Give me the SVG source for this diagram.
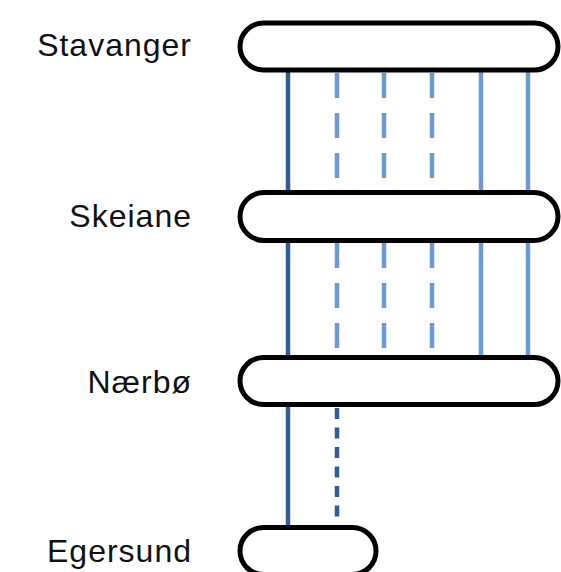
<svg xmlns="http://www.w3.org/2000/svg" width="561" height="572" viewBox="0 0 561 572">
<style>
.lbl{font-family:"Liberation Sans",Arial,sans-serif;font-size:32px;fill:#111;text-anchor:end;letter-spacing:1px}
.pill{fill:#fff;stroke:#000;stroke-width:5}
.dk{stroke:#2F5D95;stroke-width:4.5;fill:none}
.lt{stroke:#6C9BD3;stroke-width:4.5;fill:none}
.d1{stroke-dasharray:25 15}
.d2{stroke-dasharray:11 8.5}
</style>
<rect width="561" height="572" fill="#fff"/>
<g id="connectors">
<line class="dk" x1="288" y1="70" x2="288" y2="193"/>
<line class="lt d1" x1="337" y1="73" x2="337" y2="190"/>
<line class="lt d1" x1="384" y1="73" x2="384" y2="190"/>
<line class="lt d1" x1="432" y1="73" x2="432" y2="190"/>
<line class="lt" x1="481" y1="70" x2="481" y2="193"/>
<line class="lt" x1="528" y1="70" x2="528" y2="193"/>
<line class="dk" x1="288" y1="240" x2="288" y2="358"/>
<line class="lt d1" x1="337" y1="243" x2="337" y2="355"/>
<line class="lt d1" x1="384" y1="243" x2="384" y2="355"/>
<line class="lt d1" x1="432" y1="243" x2="432" y2="355"/>
<line class="lt" x1="481" y1="240" x2="481" y2="358"/>
<line class="lt" x1="528" y1="240" x2="528" y2="358"/>
<line class="dk" x1="288" y1="405" x2="288" y2="528"/>
<line class="dk d2" x1="337" y1="408" x2="337" y2="521"/>
</g>
<g id="stavanger">
<rect class="pill" x="240" y="23" width="318" height="47" rx="23.5"/>
<text class="lbl" x="192" y="56">Stavanger</text>
</g>
<g id="skeiane">
<rect class="pill" x="240" y="192.5" width="318" height="48" rx="24"/>
<text class="lbl" x="192" y="227">Skeiane</text>
</g>
<g id="naerbo">
<rect class="pill" x="240" y="357.5" width="318" height="47" rx="23.5"/>
<text class="lbl" x="192" y="393">Nærbø</text>
</g>
<g id="egersund">
<rect class="pill" x="240" y="527.5" width="136" height="47" rx="23.5"/>
<text class="lbl" x="192" y="562">Egersund</text>
</g>
</svg>
